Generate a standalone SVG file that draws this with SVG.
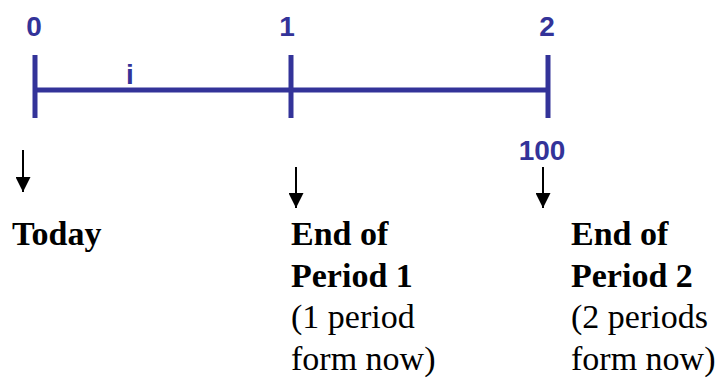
<svg xmlns="http://www.w3.org/2000/svg" width="723" height="381" viewBox="0 0 723 381">
<style>
.tl{stroke:#333399;stroke-width:5;fill:none}
.arr{stroke:#000;stroke-width:2;fill:none}
</style>
<defs>
<marker id="ah" markerWidth="15" markerHeight="15" viewBox="0 0 15 15" refX="15" refY="7.5" orient="auto" markerUnits="userSpaceOnUse">
<path d="M0,0 L15,7.5 L0,15 Z" fill="#000"/>
</marker>
</defs>
<g id="today">
<text x="12" y="245" style="font-family:'Liberation Serif',serif;font-size:34px;font-weight:bold">Today</text>
</g>
<g id="end1">
<text x="291" y="245" style="font-family:'Liberation Serif',serif;font-size:34px;font-weight:bold">End of</text>
<text x="291" y="287" style="font-family:'Liberation Serif',serif;font-size:34px;font-weight:bold">Period 1</text>
<text x="291" y="328" style="font-family:'Liberation Serif',serif;font-size:34px">(1 period</text>
<text x="291" y="370" style="font-family:'Liberation Serif',serif;font-size:34px">form now)</text>
</g>
<g id="end2">
<text x="571" y="245" style="font-family:'Liberation Serif',serif;font-size:34px;font-weight:bold">End of</text>
<text x="571" y="287" style="font-family:'Liberation Serif',serif;font-size:34px;font-weight:bold">Period 2</text>
<text x="571" y="328" style="font-family:'Liberation Serif',serif;font-size:34px">(2 periods</text>
<text x="571" y="370" style="font-family:'Liberation Serif',serif;font-size:34px">form now)</text>
</g>
<g id="timeline">
<line class="tl" x1="35" y1="90" x2="548" y2="90"/>
<line class="tl" x1="35" y1="55" x2="35" y2="118"/>
<line class="tl" x1="291" y1="55" x2="291" y2="118"/>
<line class="tl" x1="548" y1="55" x2="548" y2="118"/>
<text x="34" y="36" style="font-family:'Liberation Sans',sans-serif;font-size:28px;font-weight:bold;fill:#333399;text-anchor:middle">0</text>
<text x="287" y="36" style="font-family:'Liberation Sans',sans-serif;font-size:28px;font-weight:bold;fill:#333399;text-anchor:middle">1</text>
<text x="547" y="36" style="font-family:'Liberation Sans',sans-serif;font-size:28px;font-weight:bold;fill:#333399;text-anchor:middle">2</text>
<text x="130" y="84" style="font-family:'Liberation Sans',sans-serif;font-size:28px;font-weight:bold;fill:#333399;text-anchor:middle">i</text>
<text x="542" y="160" style="font-family:'Liberation Sans',sans-serif;font-size:28px;font-weight:bold;fill:#333399;text-anchor:middle">100</text>
</g>
<g id="connectors">
<line class="arr" x1="23" y1="150" x2="23" y2="192" marker-end="url(#ah)"/>
<line class="arr" x1="296" y1="167" x2="296" y2="208" marker-end="url(#ah)"/>
<line class="arr" x1="543" y1="167" x2="543" y2="208" marker-end="url(#ah)"/>
</g>
</svg>
